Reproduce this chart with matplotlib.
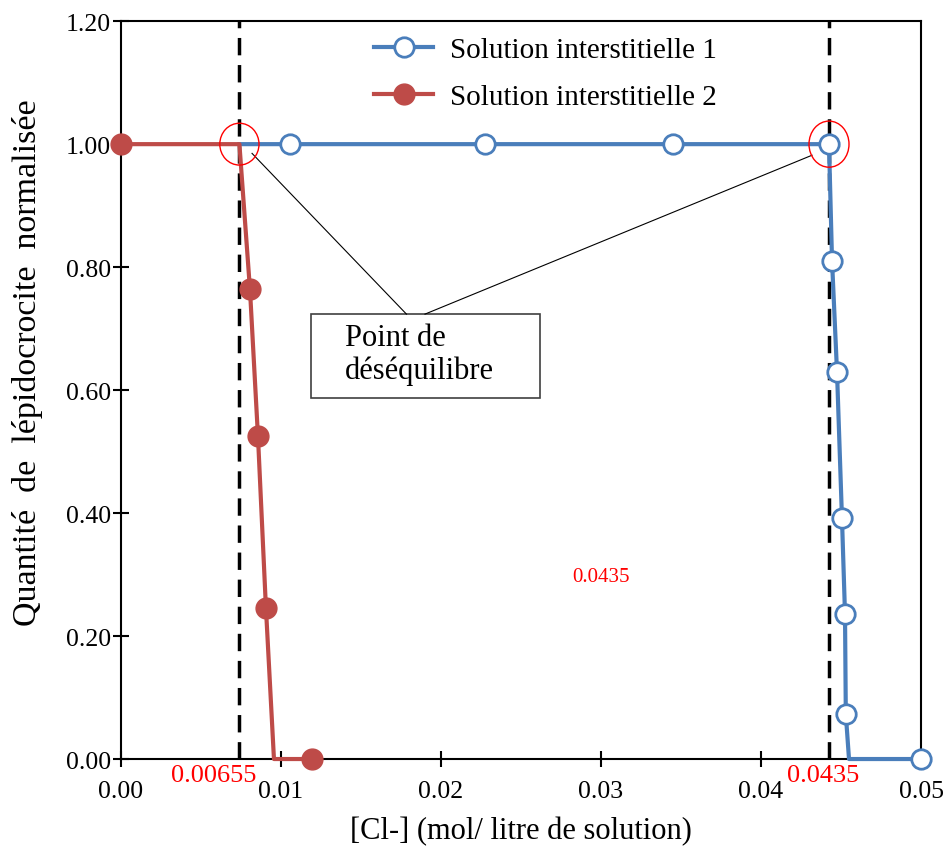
import matplotlib.pyplot as plt
from matplotlib.patches import Ellipse, Rectangle

plt.rcParams['font.family'] = ['Liberation Serif', 'DejaVu Serif']

# Solution interstitielle 1 (blue, open circles); points without marker are line corners
x1 = [0.0074, 0.01056, 0.02275, 0.0345, 0.04425, 0.04444, 0.04475, 0.04506, 0.04525, 0.0453, 0.0455, 0.05]
y1 = [1.0, 1.0, 1.0, 1.0, 1.0, 0.81, 0.63, 0.392, 0.236, 0.073, 0.0, 0.0]
mk1 = [1, 2, 3, 4, 5, 6, 7, 8, 9, 11]

# Solution interstitielle 2 (red, filled circles)
x2 = [0.0, 0.0074, 0.00806, 0.00856, 0.00906, 0.00956, 0.01194]
y2 = [1.0, 1.0, 0.764, 0.525, 0.245, 0.0, 0.0]
mk2 = [0, 2, 3, 4, 6]

seuils = [0.0074, 0.04425]
seuil_labels = ["0.00655", "0.0435"]

blue = "#4A7EBB"
red = "#BE4B48"

fig = plt.figure(figsize=(9.49, 8.53), dpi=100)
ax = fig.add_axes([0.1275, 0.109, 0.843, 0.865])

for s in seuils:
    ax.plot([s, s], [0, 1.2], color="black", lw=2.5, ls=(0, (5, 2.8)), zorder=2)

ax.plot(x1, y1, color=blue, lw=3, marker="o", markevery=mk1, ms=14,
        mfc="white", mec=blue, mew=2, label="Solution interstitielle 1", zorder=3,
        clip_on=False)
ax.plot(x2, y2, color=red, lw=3, marker="o", markevery=mk2, ms=15,
        mfc=red, mec=red, label="Solution interstitielle 2", zorder=3, clip_on=False)

# red circles on the disequilibrium points
ax.add_patch(Ellipse((seuils[0], 1.0), 0.00245, 0.068, fill=False, ec="red", lw=1, zorder=4))
ax.add_patch(Ellipse((seuils[1], 1.0), 0.0025, 0.075, fill=False, ec="red", lw=1, zorder=4))

# annotation box
ax.add_patch(Rectangle((0.011875, 0.587), 0.0143, 0.1366, fc="white", ec="#404040",
                       lw=1.2, zorder=1))
ax.text(0.0140, 0.6585, "Point de\ndéséquilibre", fontsize=22, ha="left", va="center",
        linespacing=1.15, zorder=2)
ax.plot([0.01784, 0.00819], [0.7236, 0.985], color="black", lw=0.8, zorder=1)
ax.plot([0.01900, 0.04319], [0.7236, 0.982], color="black", lw=0.8, zorder=1)

# red labels
ax.text(0.00581, -0.008, seuil_labels[0], color="red", fontsize=19, ha="center", va="top")
ax.text(0.04388, -0.008, seuil_labels[1], color="red", fontsize=19, ha="center", va="top")
ax.text(0.03, 0.297, "0.0435", color="red", fontsize=15, ha="center", va="center")

ax.set_xlim(0, 0.05)
ax.set_ylim(0, 1.2)
ax.set_xticks([0, 0.01, 0.02, 0.03, 0.04, 0.05])
ax.set_xticklabels(["0.00", "0.01", "0.02", "0.03", "0.04", "0.05"])
ax.set_yticks([0, 0.2, 0.4, 0.6, 0.8, 1.0, 1.2])
ax.set_yticklabels(["0.00", "0.20", "0.40", "0.60", "0.80", "1.00", "1.20"])
ax.tick_params(direction="inout", length=12, width=1.5, labelsize=18.5)
ax.tick_params(axis="x", pad=9)
ax.tick_params(axis="y", pad=1)
for sp in ax.spines.values():
    sp.set_linewidth(1.5)

ax.set_xlabel("[Cl-] (mol/ litre de solution)", fontsize=22, labelpad=10)
ax.set_ylabel("Quantité  de  lépidocrocite  normalisée", fontsize=24.5)
ax.yaxis.set_label_coords(-0.097, 0.539)

ax.legend(loc="upper left", bbox_to_anchor=(0.284, 1.015), frameon=False, fontsize=21,
          handlelength=2.0, handletextpad=0.6, labelspacing=0.72)

plt.savefig("out.png", dpi=100)
